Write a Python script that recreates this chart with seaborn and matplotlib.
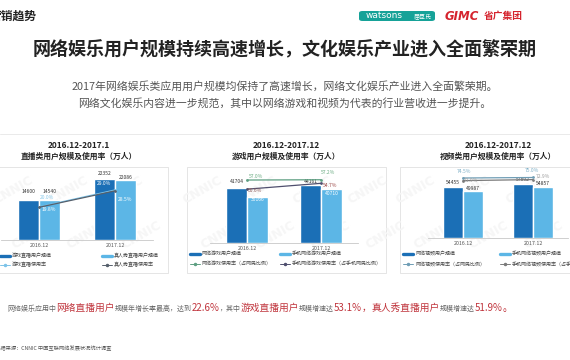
import numpy as np
import pandas as pd
import seaborn as sns
import matplotlib.pyplot as plt
from matplotlib.patches import Rectangle, FancyBboxPatch
from matplotlib.lines import Line2D

sns.set_theme(style='white')
plt.rcParams['font.family'] = ['Noto Sans CJK SC', 'DejaVu Sans']

W, H = 570, 360

periods = ['2016.12', '2017.12']

live_series = ['游戏直播用户规模', '真人秀直播用户规模']
live_users = [[14600, 22352], [14540, 22086]]
live_rate_names = ['游戏直播使用率', '真人秀直播使用率']
live_rates = [[20.0, 29.0], [19.8, 28.5]]

game_series = ['网络游戏用户规模', '手机网络游戏用户规模']
game_users = [[41704, 44161], [35166, 40710]]
game_rate_names = ['网络游戏使用率（占网民比例）', '手机网络游戏使用率（占手机网民比例）']
game_rates = [[57.0, 57.2], [50.6, 54.7]]

video_series = ['网络视频用户规模', '手机网络视频用户规模']
video_users = [[54455, 57892], [49987, 54857]]
video_rate_names = ['网络视频使用率（占网民比例）', '手机网络视频使用率（占手机网民比例）']
video_rates = [[74.5, 75.0], [71.9, 72.9]]

dark_blue = '#1b6fb6'
light_blue = '#5cb6e6'
red = '#c0343c'


def fx(x):
    return x / W


def fy(y):
    return 1 - y / H


fig = plt.figure(figsize=(5.7, 3.6), dpi=100)
fig.patch.set_facecolor('white')

# header
fig.text(fx(-11), fy(16), '营销趋势', fontsize=8.5, fontweight='bold', color='#222', va='center')
fig.add_artist(FancyBboxPatch((fx(359), fy(21)), 76 / W, 10 / H,
                              boxstyle='round,pad=0,rounding_size=0.006',
                              facecolor='#16a298', edgecolor='none', transform=fig.transFigure))
fig.text(fx(366), fy(16), 'watsons', fontsize=6.5, color='white', va='center', family='DejaVu Sans')
fig.text(fx(414), fy(16), '屈臣氏', fontsize=4.3, color='white', va='center')
fig.text(fx(445), fy(16), 'GIMC', fontsize=8.5, fontweight='bold', style='italic', color='#d5232d',
         va='center', family='DejaVu Sans')
fig.text(fx(484), fy(16), '省广集团', fontsize=7, fontweight='bold', color='#d5232d', va='center')

fig.text(0.5, fy(50), '网络娱乐用户规模持续高速增长，文化娱乐产业进入全面繁荣期', ha='center', va='center',
         fontsize=13, fontweight='bold', color='#222')
fig.text(0.5, fy(86), '2017年网络娱乐类应用用户规模均保持了高速增长，网络文化娱乐产业进入全面繁荣期。',
         ha='center', va='center', fontsize=7.8, color='#555')
fig.text(0.5, fy(103), '网络文化娱乐内容进一步规范，其中以网络游戏和视频为代表的行业营收进一步提升。',
         ha='center', va='center', fontsize=7.8, color='#555')

# separator and boxes
fig.add_artist(Line2D([0, 1], [fy(134), fy(134)], color='#e6e6e6', lw=0.6, transform=fig.transFigure))
for x0, x1 in [(-2, 168), (187, 386), (400, 572)]:
    fig.add_artist(Rectangle((fx(x0), fy(273)), (x1 - x0) / W, 106 / H, facecolor='white',
                             edgecolor='#e0e0e0', lw=0.6, transform=fig.transFigure, zorder=-2))
    for wx in range(x0 + 15, x1, 55):
        for wy in [190, 235]:
            fig.text(fx(wx + (wy - 190) * 0.4), fy(wy), 'CNNIC', fontsize=9, fontweight='bold',
                     color='#f6f6f6', rotation=30, ha='center', va='center', zorder=-1,
                     family='DejaVu Sans')

# panel titles
for cx, l1, l2 in [(79, '2016.12-2017.1', '直播类用户规模及使用率（万人）'),
                   (286, '2016.12-2017.12', '游戏用户规模及使用率（万人）'),
                   (498, '2016.12-2017.12', '视频类用户规模及使用率（万人）')]:
    fig.text(fx(cx), fy(145), l1, ha='center', va='center', fontsize=6, fontweight='bold', color='#222')
    fig.text(fx(cx), fy(156), l2, ha='center', va='center', fontsize=5.6, fontweight='bold', color='#222')


def draw_panel(rect, ylim, ylim2, width, series, users, rates, line_colors,
               val_off, val_colors, rate_off, rate_colors):
    left, top, right, bottom = rect
    ax = fig.add_axes([fx(left), fy(bottom), (right - left) / W, (bottom - top) / H])
    ax.set_facecolor('none')
    df = pd.DataFrame({
        'period': periods * len(series),
        'users': [v for row in users for v in row],
        'series': [s for s in series for _ in periods],
    })
    sns.barplot(data=df, x='period', y='users', hue='series', hue_order=series,
                palette=[dark_blue, light_blue], width=width, saturation=1,
                legend=False, ax=ax)
    ax.set_xlim(-0.5, 1.5)
    ax.set_ylim(*ylim)
    ax.set_xlabel('')
    ax.set_ylabel('')
    ax.set_yticks([])
    ax.tick_params(axis='x', labelsize=3.8, pad=2.5, length=0, colors='#555')
    for s in ['left', 'right', 'top']:
        ax.spines[s].set_visible(False)
    ax.spines['bottom'].set_color('#c8c8c8')
    ax.spines['bottom'].set_linewidth(0.6)

    # bar value labels
    for i in range(len(series)):
        for j in range(len(periods)):
            bx = j + (i - 0.5) * width / 2
            ax.annotate(str(users[i][j]), (bx, users[i][j]), xytext=(0, val_off[i][j] * 0.72),
                        textcoords='offset points', ha='center', va='center',
                        fontsize=3.6, color=val_colors[i])

    ax2 = ax.twinx()
    ax2.set_facecolor('none')
    xs = np.arange(len(periods))
    for k in range(len(rates)):
        sns.lineplot(x=xs, y=rates[k], ax=ax2, color=line_colors[k], marker='o',
                     markersize=2, markeredgewidth=0, linewidth=0.9)
        for j in range(len(periods)):
            dx, dy = rate_off[k][j]
            ax2.annotate(f'{rates[k][j]:.1f}%', (xs[j], rates[k][j]), xytext=(dx * 0.72, dy * 0.72),
                         textcoords='offset points', ha='center', va='center',
                         fontsize=3.6, color=rate_colors[k][j])
    ax2.set_ylim(*ylim2)
    ax2.set_yticks([])
    ax2.set_ylabel('')
    for s in ax2.spines.values():
        s.set_visible(False)
    return ax


draw_panel((1, 165, 153, 240), (0, 27400), (2.5, 42.2), 0.55, live_series, live_users, live_rates,
           ['#7cc3e8', '#56606c'], [[9, 5], [9, 2]], ['#333', '#333'],
           [[(8, 9), (-11, 6)], [(10, -2), (10, -9)]],
           [['#8ccbeb', 'white'], ['white', 'white']])
draw_panel((210, 165, 358, 243), (0, 59100), (13, 67.5), 0.57, game_series, game_users, game_rates,
           ['#5e9f82', '#4f4f6e'], [[6, 3], [-3, -4]], ['#333', 'white'],
           [[(9, 4), (7, 7)], [(8, -1), (9, -2)]],
           [['#6fae86', '#6fae86'], ['#8c5a5a', '#a0504e']])
draw_panel((428, 165, 568, 238), (0, 78000), (14.5, 87.5), 0.57, video_series, video_users, video_rates,
           ['#6f9db5', '#7a7a7a'], [[5, 4], [3, 3]], ['#333', '#333'],
           [[(1, 6), (-1, 7)], [(8, 0), (10, 3)]],
           [['#7fb0c8', '#7fb0c8'], ['#a0a0a0', '#a0a0a0']])


# legends
def legend_item(x, y, label, color, bar=True):
    if bar:
        fig.add_artist(Line2D([fx(x), fx(x + 10)], [fy(y), fy(y)], color=color, lw=2.4,
                              transform=fig.transFigure))
    else:
        fig.add_artist(Line2D([fx(x), fx(x + 5), fx(x + 10)], [fy(y)] * 3, color=color, lw=0.7,
                              marker='o', markersize=1.5, markevery=[1], transform=fig.transFigure))
    fig.text(fx(x + 12), fy(y), label, fontsize=3.6, color='#444', va='center')


for (xa, xb, y1, y2), series, rnames, lcols in [
        ((0, 102, 256, 265), live_series, live_rate_names, ['#7cc3e8', '#56606c']),
        ((190, 280, 254, 264), game_series, game_rate_names, ['#5e9f82', '#4f4f6e']),
        ((403, 500, 254, 264), video_series, video_rate_names, ['#6f9db5', '#7a7a7a'])]:
    legend_item(xa, y1, series[0], dark_blue)
    legend_item(xb, y1, series[1], light_blue)
    legend_item(xa, y2, rnames[0], lcols[0], bar=False)
    legend_item(xb, y2, rnames[1], lcols[1], bar=False)

# bottom rich text
parts = [('网络娱乐应用中', 5, '#666'), ('网络直播用户', 7, red), ('规模年增长率最高，达到', 5, '#666'),
         ('22.6%', 7, red), ('，其中', 5, '#666'), ('游戏直播用户', 7, red), ('规模增速达', 5, '#666'),
         ('53.1%', 7, red), ('，', 7, red), ('真人秀直播用户', 7, red), ('规模增速达', 5, '#666'),
         ('51.9%', 7, red), ('。', 7, red)]
renderer = fig.canvas.get_renderer()
x = 7
for s, size, color in parts:
    t = fig.text(fx(x), fy(311), s, fontsize=size, color=color, va='baseline')
    x += t.get_window_extent(renderer=renderer).width

fig.text(fx(-5), fy(348), '数据来源：CNNIC 中国互联网络发展状况统计调查', fontsize=3.8, color='#555', va='center')

fig.savefig('out.png', dpi=100)
